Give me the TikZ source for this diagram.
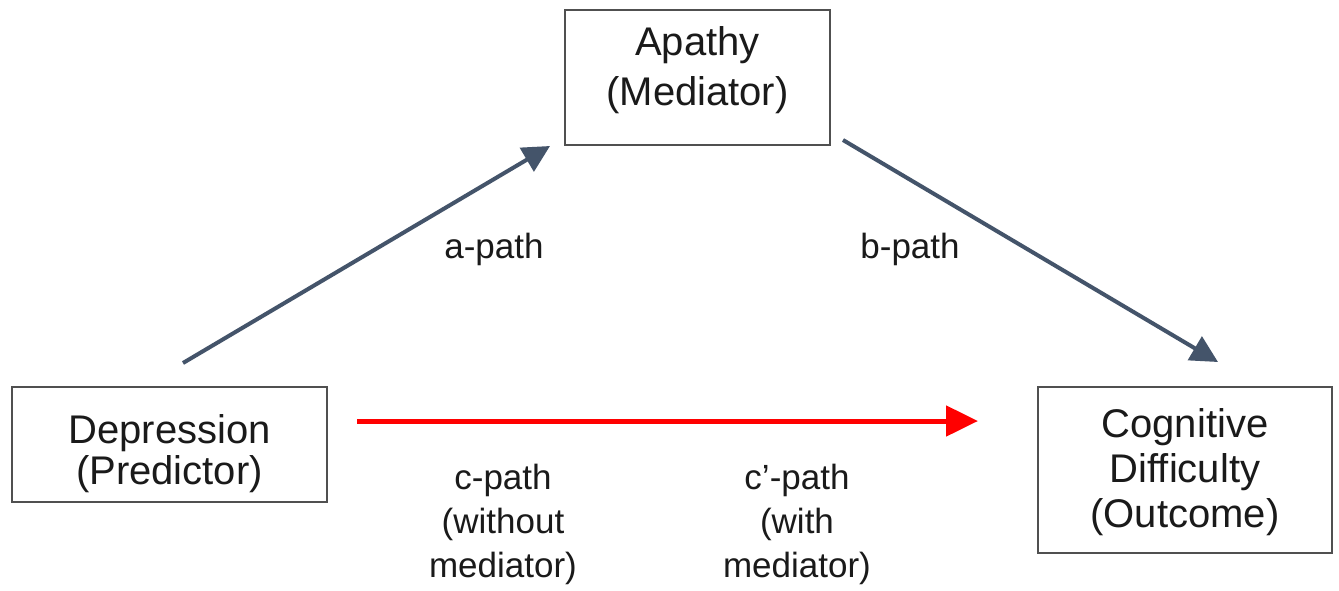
\documentclass[tikz,border=0pt]{standalone}
\usepackage{fontspec}
\setmainfont{Liberation Sans}
\usetikzlibrary{arrows.meta}
\definecolor{arrowdark}{HTML}{44546A}
\definecolor{arrowred}{HTML}{FF0000}
\definecolor{boxline}{HTML}{505050}
\definecolor{txt}{HTML}{1A1A1A}
\begin{document}
\begin{tikzpicture}[x=1pt,y=-1pt,
  box/.style={draw=boxline, line width=1.5pt, fill=white, inner sep=0pt},
  boxtext/.style={text=txt, inner sep=0pt, align=center},
  lbl/.style={text=txt, inner sep=0pt, align=center, font=\fontsize{35}{44}\selectfont},
  darrow/.style={draw=arrowdark, line width=4pt, -{Triangle[length=27pt,width=27pt]}},
  rarrow/.style={draw=arrowred, line width=5pt, -{Triangle[length=32pt,width=30pt]}}
]
\useasboundingbox (0,0) rectangle (1339,590);
\fill[white] (0,0) rectangle (1339,590);

% boxes
\node[box, minimum width=265pt, minimum height=135pt] (apathy) at (697.5,77.5) {};
\node[box, minimum width=315pt, minimum height=115pt] (dep) at (169.5,444.5) {};
\node[box, minimum width=294pt, minimum height=166pt] (cog) at (1185,470) {};

% box texts
\node[boxtext, font=\fontsize{40}{50}\selectfont] (apathytext) at (697.5,70) {Apathy\\(Mediator)};
\node[boxtext, font=\fontsize{40}{41}\selectfont] (deptext) at (169.5,454) {Depression\\(Predictor)};
\node[boxtext, font=\fontsize{40}{45}\selectfont] (cogtext) at (1185,472) {Cognitive\\Difficulty\\(Outcome)};

% arrow end points
\coordinate (aS) at (183,363);
\coordinate (aE) at (550,146);
\coordinate (bS) at (843,140);
\coordinate (bE) at (1218,362);
\coordinate (cS) at (357,421);
\coordinate (cE) at (978,421);

\draw[darrow] (aS) -- (aE);
\draw[darrow] (bS) -- (bE);
\draw[rarrow] (cS) -- (cE);

% labels
\node[lbl, anchor=base] (alabel) at (494,258) {a-path};
\node[lbl, anchor=base] (blabel) at (910,258) {b-path};
\node[lbl] (clabel) at (503,524) {c-path\\(without\\mediator)};
\node[lbl] (cplabel) at (797,524) {c’-path\\(with\\mediator)};
\end{tikzpicture}
\end{document}
